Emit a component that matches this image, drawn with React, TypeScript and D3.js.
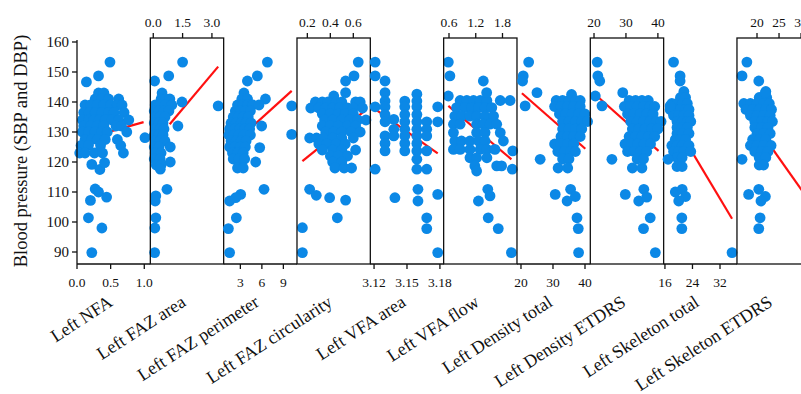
import React from "react";
import * as d3 from "d3";

type Pt = [number, number];
type Row = [number, number[]];

const categories = [
  "Left NFA",
  "Left FAZ area",
  "Left FAZ perimeter",
  "Left FAZ circularity",
  "Left VFA area",
  "Left VFA flow",
  "Left Density total",
  "Left Density ETDRS",
  "Left Skeleton total",
  "Left Skeleton ETDRS",
];

const xDomains: [number, number][] = [
  [0, 1.09],
  [-0.15, 3.6],
  [0.67, 10.9],
  [0.11, 0.748],
  [3.1166, 3.1834],
  [0.48, 2.125],
  [18.75, 41.66],
  [18.84, 41.8],
  [15.62, 36.93],
  [15.45, 32.1],
];

const xTickValues: number[][] = [
  [0, 0.5, 1.0],
  [0, 1.5, 3.0],
  [3, 6, 9],
  [0.2, 0.4, 0.6],
  [3.12, 3.15, 3.18],
  [0.6, 1.2, 1.8],
  [20, 30, 40],
  [20, 30, 40],
  [16, 24, 32],
  [20, 25, 30],
];

const xTickLabels: string[][] = [
  ["0.0", "0.5", "1.0"],
  ["0.0", "1.5", "3.0"],
  ["3", "6", "9"],
  ["0.2", "0.4", "0.6"],
  ["3.12", "3.15", "3.18"],
  ["0.6", "1.2", "1.8"],
  ["20", "30", "40"],
  ["20", "30", "40"],
  ["16", "24", "32"],
  ["20", "25", "30"],
];

const yTicks = [90, 100, 110, 120, 130, 140, 150, 160];
const yTitle = "Blood pressure (SBP and DBP)";

// regression lines: [x1, y1, x2, y2]
const fitLines: [number, number, number, number][] = [
  [0.34, 129.2, 0.99, 133.3],
  [0.84, 132.6, 3.32, 151.8],
  [4.67, 131.8, 10.16, 143.7],
  [0.157, 120.3, 0.707, 137.3],
  [3.121, 137.6, 3.178, 122.9],
  [0.585, 138.7, 2.0, 120.9],
  [20.3, 142.9, 40.1, 124.4],
  [21.5, 141.4, 40.2, 123.7],
  [16.6, 137.3, 35.5, 101.1],
  [18.5, 134.8, 32.1, 106.6],
];

// ---- points: clusters as rows [y, xs], plus single points ----
const nfaRows: Row[] = [
  [143, [0.32, 0.4]],
  [141, [0.27, 0.37, 0.47, 0.62]],
  [139, [0.12, 0.2, 0.3, 0.4, 0.5, 0.6, 0.67]],
  [136.5, [0.1, 0.18, 0.27, 0.37, 0.47, 0.55, 0.7]],
  [134, [0.08, 0.17, 0.25, 0.33, 0.42, 0.52, 0.62, 0.77]],
  [132, [0.1, 0.2, 0.3, 0.4, 0.58, 0.66]],
  [130, [0.08, 0.17, 0.27, 0.37, 0.45, 0.74]],
  [127.5, [0.12, 0.22, 0.3, 0.42, 0.6]],
  [125.5, [0.06, 0.17, 0.35, 0.65]],
  [123, [0.04, 0.12, 0.26, 0.38, 0.69]],
];
const nfaSingles: Pt[] = [
  [0.49, 153.3], [0.14, 146.7], [0.32, 148.7], [0.22, 119.2], [0.34, 117.5], [0.41, 119.8],
  [1.01, 128.1], [0.27, 111], [0.32, 110], [0.44, 108.3], [0.2, 107.2], [0.17, 101.4],
  [0.37, 98], [0.22, 89.8],
];

const fazAreaRows: Row[] = [
  [143, [0.45]],
  [141, [0.4, 0.62, 0.85]],
  [139, [0.1, 0.35, 0.6, 0.95]],
  [137, [0.05, 0.3, 0.55, 0.8]],
  [135, [0.1, 0.35, 0.6]],
  [133, [0.05, 0.3, 0.5]],
  [131, [0.1, 0.35, 0.55]],
  [129, [0.05, 0.3, 0.5]],
  [127, [0.1, 0.35, 0.6]],
  [125, [0.05, 0.3, 0.87]],
  [123, [0.1, 0.4]],
  [121, [0.05, 0.35]],
  [119, [0.15, 0.4]],
];
const fazAreaSingles: Pt[] = [
  [1.5, 153.3], [0.07, 147], [0.79, 148.7], [1.47, 140], [3.32, 138.7], [1.26, 132],
  [0.87, 120], [0.36, 117.6], [0.7, 110.9], [0.13, 108.7], [0.1, 107], [0.13, 101.4],
  [0.08, 98], [0.07, 89.8],
];

const fazPerimeterRows: Row[] = [
  [143, [3.5]],
  [141, [3.2, 4.0, 6.5]],
  [139, [2.6, 3.3, 4.0, 4.7, 5.6]],
  [137, [2.3, 3.0, 3.7, 4.4]],
  [135, [2.0, 2.7, 3.4, 4.1]],
  [133, [1.7, 2.4, 3.1, 3.8, 4.5]],
  [131, [1.5, 2.2, 2.9, 3.6, 4.3]],
  [129, [1.4, 2.1, 2.8, 3.5, 4.4]],
  [127, [1.7, 2.4, 3.1, 3.8]],
  [125, [1.5, 2.2, 3.0, 3.7]],
  [123, [1.9, 2.6, 3.4]],
  [121, [2.0, 2.8, 3.6]],
  [118, [2.6, 3.4]],
];
const fazPerimeterSingles: Pt[] = [
  [6.77, 153.3], [3.98, 147], [5.37, 148.7], [10.16, 138.7], [10.16, 129.2], [5.97, 132],
  [5.7, 124.8], [5.14, 120], [6.3, 110.9], [3.04, 109.2], [2.35, 108.1], [1.5, 107],
  [2.44, 101.4], [1.33, 97.8], [1.5, 89.8],
];

const fazCircularityRows: Row[] = [
  [142, [0.43]],
  [140, [0.27, 0.33, 0.38, 0.45, 0.5, 0.62, 0.66]],
  [138, [0.23, 0.3, 0.36, 0.42, 0.48, 0.55, 0.6, 0.68]],
  [136, [0.33, 0.4, 0.47, 0.53, 0.6]],
  [134, [0.35, 0.42, 0.5, 0.57, 0.64, 0.71]],
  [132, [0.33, 0.4, 0.47, 0.55, 0.62]],
  [130, [0.36, 0.43, 0.5, 0.58, 0.66]],
  [128, [0.22, 0.28, 0.34, 0.42, 0.5, 0.6]],
  [126, [0.3, 0.37, 0.45, 0.53]],
  [124, [0.33, 0.42, 0.5, 0.62]],
  [122, [0.4, 0.47, 0.55]],
  [120, [0.42, 0.5]],
  [118, [0.44, 0.52, 0.585]],
];
const fazCircularitySingles: Pt[] = [
  [0.643, 153.3], [0.606, 148.7], [0.533, 147], [0.533, 143.1], [0.157, 98.1], [0.157, 89.8],
  [0.22, 110.9], [0.278, 108.9], [0.394, 108.1], [0.533, 107.3], [0.461, 101.4],
];

const vfaAreaRows: Row[] = [
  [153.3, [3.121]],
  [148.7, [3.121]],
  [147, [3.13]],
  [143.1, [3.13]],
  [142.6, [3.159]],
  [140.3, [3.13, 3.148, 3.159]],
  [138.4, [3.121, 3.13, 3.148, 3.159, 3.178]],
  [135.8, [3.13, 3.148, 3.159]],
  [134.2, [3.138]],
  [133.4, [3.13, 3.148, 3.159, 3.168, 3.178]],
  [130.9, [3.138, 3.148, 3.159, 3.168]],
  [128.7, [3.13, 3.138, 3.148, 3.159, 3.168]],
  [126.2, [3.13, 3.148, 3.159]],
  [123.7, [3.13, 3.148, 3.159, 3.168]],
  [120.9, [3.159]],
  [117.6, [3.121, 3.159, 3.168]],
];
const vfaAreaSingles: Pt[] = [
  [3.139, 108.1], [3.16, 110.9], [3.16, 107], [3.168, 101.4], [3.168, 97.8],
  [3.178, 109.2], [3.178, 89.8],
];

const vfaFlowRows: Row[] = [
  [140.5, [0.85, 1.0, 1.15, 1.3, 1.45, 1.75, 1.97]],
  [138.1, [0.77, 0.96, 1.11, 1.26, 1.41, 1.56]],
  [135.3, [0.73, 0.88, 1.07, 1.22, 1.41, 1.6]],
  [132.6, [0.7, 0.85, 1.22, 1.37, 1.52, 1.67]],
  [129.8, [0.7, 1.22, 1.41, 1.75]],
  [127, [0.73, 0.88, 1.07, 1.26, 1.41, 1.82]],
  [124.2, [0.7, 0.85, 1.07, 1.3, 1.45, 1.63]],
  [121.4, [1.07, 1.22, 1.45]],
  [118.7, [1.18, 1.67, 1.78]],
  [117, [1.22]],
];
const vfaFlowSingles: Pt[] = [
  [0.585, 153.3], [0.62, 148.7], [0.585, 142], [1.37, 147], [1.445, 143.1], [2.03, 123.7],
  [2.02, 117.6], [1.26, 107], [1.47, 110.9], [1.52, 108.7], [1.48, 101.4], [1.705, 97.8],
  [2.0, 89.8],
];

const densityTotalRows: Row[] = [
  [142.5, [35.8]],
  [140.5, [31, 33, 35, 37, 38.5]],
  [138.5, [30.5, 32.5, 34.5, 36.5, 38.5]],
  [136, [32, 34, 36, 38, 40]],
  [133.5, [33, 35, 37, 39, 40.8]],
  [131, [33, 35, 37, 39]],
  [128.5, [32.5, 34.5, 36.5, 38.5]],
  [126, [30.5, 32.5, 34.5, 36.5]],
  [123.5, [31.5, 33.5, 35.5, 37]],
  [121, [33, 35]],
  [118, [31.6, 34.6]],
];
const densityTotalSingles: Pt[] = [
  [22.4, 153.3], [20.7, 148.7], [20.5, 147], [25, 143.1], [21.3, 138.7], [26, 120.9],
  [30.7, 109.2], [34.4, 107], [35.5, 110.9], [37, 108.5], [37.5, 101.4], [37.9, 97.8],
  [38, 89.8],
];

const densityEtdrsRows: Row[] = [
  [140.5, [31, 33, 35, 37]],
  [138.5, [29.5, 31.5, 33.5, 35.5, 37.5, 39]],
  [136, [30.5, 32.5, 34.5, 36.5, 38.5]],
  [133.5, [31.5, 33.5, 35.5, 37.5, 39.5, 41]],
  [131, [32, 34, 36, 38, 40]],
  [128.5, [31, 33, 35, 37, 39]],
  [126, [29.7, 31.7, 33.7, 35.7, 37.7]],
  [123.5, [30.5, 32.5, 34.5, 36.5]],
  [121, [33.5, 35.5]],
  [118, [32, 35]],
];
const densityEtdrsSingles: Pt[] = [
  [21, 153.3], [21.2, 148.7], [21.8, 147], [20.4, 142], [29, 143.1], [22.5, 138.7],
  [25.6, 120.9], [29.8, 109.2], [34, 107], [35.6, 110.9], [36.5, 108.3], [37.6, 101.4],
  [35.5, 97.8], [39.2, 89.8],
];

const skeletonTotalRows: Row[] = [
  [143.5, [21.5]],
  [141.5, [20.5, 22]],
  [139.5, [18, 19.5, 21, 22.5]],
  [137.5, [17.5, 19, 20.5, 22, 23]],
  [135.5, [18.5, 20, 21.5, 23]],
  [133.5, [19.5, 21, 22.5, 23.5]],
  [131.5, [19.5, 21, 22.5]],
  [129.5, [19.5, 21, 23]],
  [127.5, [19, 20.5, 22]],
  [125.5, [18, 19.5, 21, 23]],
  [123.5, [18.5, 20, 21.5, 23.5]],
  [121.5, [19.5, 21]],
  [118.5, [19.5, 21]],
];
const skeletonTotalSingles: Pt[] = [
  [18.5, 153.3], [20.4, 148.7], [20.4, 147], [17.5, 138.7], [16.9, 120.9], [19, 110],
  [21, 110.9], [22, 108.5], [20, 107], [20.9, 101.4], [20.9, 97.8], [35.5, 89.8],
];

const skeletonEtdrsRows: Row[] = [
  [143.5, [22]],
  [141.5, [20.5, 22.2]],
  [139.5, [17, 18.5, 20, 21.5, 22.8]],
  [137.5, [17.5, 19, 20.5, 22, 23.3]],
  [135.5, [18.5, 20, 21.5, 23]],
  [133.5, [19.5, 21, 22.5, 23.5]],
  [131.5, [19.5, 21, 22.5]],
  [129.5, [20, 21.5, 23]],
  [127.5, [19, 20.5, 22]],
  [125.5, [18.5, 20, 21.5, 23.2]],
  [123.5, [19.5, 21, 22.5]],
  [121.5, [20.5, 22]],
  [119, [20.5, 21.5]],
];
const skeletonEtdrsSingles: Pt[] = [
  [17.7, 153.3], [16.6, 148.7], [20.4, 147], [21.9, 143.1], [16.6, 120.9], [18.1, 109.2],
  [20.4, 110.9], [21.9, 108.5], [20.9, 107], [20.7, 101.4], [20.4, 97.8], [31.6, 89.8],
];

const panelRows: Row[][] = [
  nfaRows, fazAreaRows, fazPerimeterRows, fazCircularityRows, vfaAreaRows,
  vfaFlowRows, densityTotalRows, densityEtdrsRows, skeletonTotalRows, skeletonEtdrsRows,
];
const panelSingles: Pt[][] = [
  nfaSingles, fazAreaSingles, fazPerimeterSingles, fazCircularitySingles, vfaAreaSingles,
  vfaFlowSingles, densityTotalSingles, densityEtdrsSingles, skeletonTotalSingles, skeletonEtdrsSingles,
];

// ---- layout ----
const W = 801;
const H = 394;
const LEFT0 = 77;
const PANEL_W = 73.33;
const TOP = 38;
const BOTTOM = 264;
const BLUE = "#0b88e6";
const FONT = "'Liberation Serif', 'Times New Roman', serif";

const yScale = d3.scaleLinear().domain([86, 161.33]).range([BOTTOM, TOP]);

function Panel({ i }: { i: number }) {
  const x0 = LEFT0 + i * PANEL_W;
  const x1 = x0 + PANEL_W;
  const xs = d3.scaleLinear().domain(xDomains[i]).range([x0, x1]);
  const boxed = i % 2 === 1;
  const pts: Pt[] = [
    ...panelRows[i].flatMap(([y, xv]) => xv.map((x) => [x, y] as Pt)),
    ...panelSingles[i],
  ];
  const [fx1, fy1, fx2, fy2] = fitLines[i];
  const line = d3.line<Pt>().x((d) => xs(d[0])).y((d) => yScale(d[1]));
  return (
    <g>
      <path d={line([[fx1, fy1], [fx2, fy2]]) || ""} stroke="#ff1010" strokeWidth={2.2} fill="none" />
      {pts.map((p, k) => (
        <circle key={k} cx={xs(p[0])} cy={yScale(p[1])} r={5.4} fill={BLUE} />
      ))}
      {boxed ? (
        <g>
          <rect x={x0} y={TOP} width={PANEL_W} height={BOTTOM - TOP} fill="none" stroke="#111" strokeWidth={1.3} />
          {xTickValues[i].map((t, k) => (
            <g key={k}>
              <line x1={xs(t)} x2={xs(t)} y1={TOP} y2={TOP - 5} stroke="#111" strokeWidth={1.3} />
              <text x={xs(t)} y={27} textAnchor="middle" fontSize={13.5} fontFamily={FONT} fill="#111">
                {xTickLabels[i][k]}
              </text>
            </g>
          ))}
        </g>
      ) : (
        <g>
          <line x1={x0} x2={x1} y1={BOTTOM} y2={BOTTOM} stroke="#111" strokeWidth={1.3} />
          {xTickValues[i].map((t, k) => (
            <g key={k}>
              <line x1={xs(t)} x2={xs(t)} y1={BOTTOM} y2={BOTTOM + 5} stroke="#111" strokeWidth={1.3} />
              <text x={xs(t)} y={287} textAnchor="middle" fontSize={13.5} fontFamily={FONT} fill="#111">
                {xTickLabels[i][k]}
              </text>
            </g>
          ))}
        </g>
      )}
      <text
        transform={`translate(${x0 + PANEL_W / 2},305) rotate(-33)`}
        textAnchor="end"
        fontSize={18}
        fontFamily={FONT}
        fill="#111"
      >
        {categories[i]}
      </text>
    </g>
  );
}

export default function App() {
  return (
    <svg
      width={W}
      height={H}
      viewBox={`0 0 ${W} ${H}`}
      style={{ position: "absolute", left: 0, top: 0, background: "#fff" }}
    >
      <rect x={0} y={0} width={W} height={H} fill="#fff" />
      {categories.map((_, i) => (
        <Panel key={i} i={i} />
      ))}
      {/* y axis */}
      <line x1={LEFT0} x2={LEFT0} y1={TOP + 2} y2={BOTTOM} stroke="#111" strokeWidth={1.3} />
      {yTicks.map((t) => (
        <g key={t}>
          <line x1={LEFT0 - 5} x2={LEFT0} y1={yScale(t)} y2={yScale(t)} stroke="#111" strokeWidth={1.3} />
          <text
            x={LEFT0 - 8}
            y={yScale(t)}
            dy="0.35em"
            textAnchor="end"
            fontSize={15}
            fontFamily={FONT}
            fill="#111"
          >
            {t}
          </text>
        </g>
      ))}
      <text
        transform={`translate(26.5,151) rotate(-90)`}
        textAnchor="middle"
        fontSize={18.5}
        fontFamily={FONT}
        fill="#111"
      >
        {yTitle}
      </text>
    </svg>
  );
}
